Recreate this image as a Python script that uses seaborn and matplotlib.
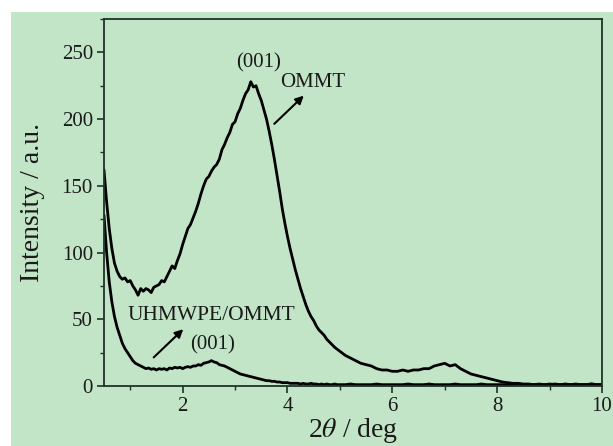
import numpy as np
import pandas as pd
import matplotlib
matplotlib.use("Agg")
import matplotlib.pyplot as plt
import seaborn as sns
from matplotlib.patches import Rectangle
from matplotlib.ticker import MultipleLocator

# ---- data ----
two_theta = np.round(np.concatenate([np.arange(0.5, 4.999, 0.05),
                                     np.arange(5.0, 10.001, 0.1)]), 2)

ommt = [162, 138, 118, 103, 92, 86, 82, 80, 81, 78,
        79, 75, 72, 68, 73, 71, 73, 72, 70, 74,
        75, 76, 79, 78, 82, 86, 90, 88, 94, 99,
        106, 112, 118, 121, 126, 131, 137, 144, 150, 155,
        157, 161, 164, 166, 170, 177, 181, 186, 190, 196,
        198, 204, 208, 214, 219, 222, 228, 224, 225, 219,
        214, 207, 200, 191, 181, 170, 158, 146, 133, 122,
        112, 103, 95, 87, 80, 73, 67, 61, 56, 52,
        49, 45, 42, 40, 38, 35, 33, 31, 29, 27.5,
        # 5.0 - 10.0 (step 0.1)
        26, 23, 21, 19, 17, 16, 15, 13, 12, 12,
        11, 11, 12, 11, 12, 12, 13, 13, 15, 16,
        17, 15, 16, 13, 11, 9, 8, 7, 6, 5,
        4, 3, 2.5, 2, 2, 1.5, 1.5, 1, 1.5, 1,
        1.5, 1, 1, 1.5, 1, 1.5, 1, 1, 1.5, 1,
        1]

uhmwpe_ommt = [128, 100, 78, 63, 52, 44, 38, 32, 28, 25,
               22, 19, 17, 16, 15, 14, 13, 13.5, 12.5, 13,
               12, 13, 12.5, 13, 12, 13.5, 13, 14, 13.5, 14,
               13, 14, 14.5, 14, 15, 15, 16, 15.5, 17, 17.5,
               18, 19, 18, 17.5, 16, 15.5, 15, 14, 13, 12,
               11, 10, 9, 8.5, 8, 7.5, 7, 6.5, 6, 5.5,
               5, 4.5, 4, 4, 3.5, 3.5, 3, 3, 2.5, 2.5,
               2.5, 2, 2, 2, 2, 1.5, 2, 1.5, 1.5, 2,
               1.5, 1.5, 1, 1.5, 1, 1.5, 1, 1, 1.5, 1,
               # 5.0 - 10.0 (step 0.1)
               1, 1, 1.5, 1, 1, 1, 1, 1.5, 1, 1,
               1, 1, 1, 1.5, 1, 1, 1, 1.5, 1, 1,
               1, 1, 1.5, 1, 1, 1, 1, 1.5, 1, 1,
               1, 1, 1, 1, 1.5, 1, 1, 1, 1, 1,
               1, 1.5, 1, 1, 1, 1, 1, 1, 1.5, 1,
               1]

x_ticks = [2, 4, 6, 8, 10]
y_ticks = [0, 50, 100, 150, 200, 250]

df = pd.concat([
    pd.DataFrame({"two_theta": two_theta, "intensity": ommt, "sample": "OMMT"}),
    pd.DataFrame({"two_theta": two_theta, "intensity": uhmwpe_ommt, "sample": "UHMWPE/OMMT"}),
])

# ---- style ----
sns.set_theme(style="ticks")
plt.rcParams["font.family"] = ["Liberation Serif", "DejaVu Serif"]
plt.rcParams["mathtext.fontset"] = "stix"

GREEN = "#c3e5c7"
SPINE = "#1e3326"
TXT = "#1a1a1a"

fig = plt.figure(figsize=(6.13, 4.46), dpi=100)
fig.patch.set_facecolor("white")
bg = Rectangle((11 / 613, 0), 1, (446 - 12) / 446,
               transform=fig.transFigure, facecolor=GREEN,
               edgecolor="none", zorder=-10)
fig.patches.append(bg)

ax = fig.add_axes([104 / 613, (446 - 386) / 446, (602 - 104) / 613, (386 - 19) / 446])
ax.set_zorder(1)
ax.set_facecolor(GREEN)

sns.lineplot(data=df, x="two_theta", y="intensity", hue="sample",
             palette={"OMMT": "black", "UHMWPE/OMMT": "black"},
             estimator=None, sort=False, legend=False, linewidth=2.0, ax=ax)

ax.set_xlim(0.5, 10)
ax.set_ylim(0, 275)
ax.set_xticks(x_ticks)
ax.set_yticks(y_ticks)
ax.xaxis.set_minor_locator(MultipleLocator(1))
ax.yaxis.set_minor_locator(MultipleLocator(25))
ax.tick_params(axis="both", which="major", direction="out", length=5, width=1.2,
               labelsize=15, color=SPINE, labelcolor=TXT, pad=3)
ax.tick_params(axis="both", which="minor", direction="out", length=3, width=1.0, color=SPINE)
ax.tick_params(top=False, right=False, which="both")
for s in ax.spines.values():
    s.set_color(SPINE)
    s.set_linewidth(1.3)

ax.set_xlabel(r"2$\theta$ / deg", fontsize=20, color=TXT, labelpad=0)
ax.set_ylabel("Intensity / a.u.", fontsize=20, color=TXT, labelpad=12)

# annotations
ax.text(3.45, 242, "(001)", fontsize=15, ha="center", va="center", color=TXT)
ax.text(4.48, 227.5, "OMMT", fontsize=15, ha="center", va="center", color=TXT)
ax.annotate("", xy=(4.35, 219), xytext=(3.71, 195),
            arrowprops=dict(arrowstyle="-|>", color="black", lw=1.5, mutation_scale=12))
ax.text(2.55, 53, "UHMWPE/OMMT", fontsize=15.5, ha="center", va="center", color=TXT)
ax.text(2.57, 31, "(001)", fontsize=15, ha="center", va="center", color=TXT)
ax.annotate("", xy=(2.05, 44), xytext=(1.41, 20),
            arrowprops=dict(arrowstyle="-|>", color="black", lw=1.5, mutation_scale=12))

fig.savefig("out.png", dpi=100, facecolor=fig.get_facecolor())
